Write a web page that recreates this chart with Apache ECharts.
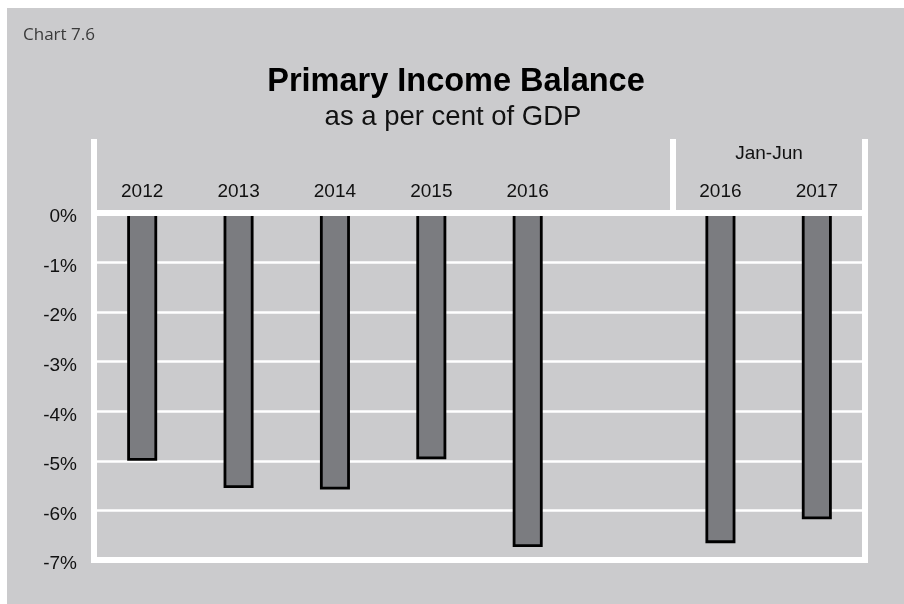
<!DOCTYPE html>
<html>
<head>
<meta charset="utf-8">
<script src="https://cdn.jsdelivr.net/npm/echarts@6/dist/echarts.min.js"></script>
<style>
  html, body { margin: 0; padding: 0; background: #ffffff; }
  #panel { position: absolute; left: 7px; top: 8px; width: 897px; height: 596px; background: #cbcbcd; }
  #chart { position: absolute; left: 0; top: 0; width: 904px; height: 604px; }
</style>
</head>
<body>
<div id="panel"></div>
<div id="chart"></div>
<script>
// Primary income balance, per cent of GDP (calendar years, then Jan-Jun halves)
const categories = ['2012', '2013', '2014', '2015', '2016', '', '2016', '2017'];
const balance = [-5.0, -5.55, -5.58, -4.97, -6.74, null, -6.66, -6.18];
const yTicks = { min: -7, max: 0, step: 1 };
const periodLabel = 'Jan-Jun';
const firstHalfIndex = 6; // first category of the Jan-Jun group

const white = '#ffffff';
const labelFont = { fontFamily: 'Liberation Sans, Arial, sans-serif', fontSize: 19, color: '#111111' };

const chart = echarts.init(document.getElementById('chart'), null, { renderer: 'canvas' });

chart.setOption({
  backgroundColor: 'transparent',
  animation: false,
  grid: { left: 94, right: 39, top: 213, bottom: 44, containLabel: false },
  graphic: [
    { type: 'text', x: 23, y: 35, style: { text: 'Chart 7.6', font: '17px "Open Sans", sans-serif', fill: '#3a3a3a', textVerticalAlign: 'middle' } },
    { type: 'text', x: 456, y: 82, style: { text: 'Primary Income Balance', font: 'bold 32.5px "Liberation Sans", Arial, sans-serif', fill: '#000000', textAlign: 'center', textVerticalAlign: 'middle' } },
    { type: 'text', x: 453, y: 117, style: { text: 'as a per cent of GDP', font: '27.5px "Liberation Sans", Arial, sans-serif', fill: '#111111', textAlign: 'center', textVerticalAlign: 'middle' } },
    { type: 'text', x: 769, y: 154, style: { text: periodLabel, font: '19px "Liberation Sans", Arial, sans-serif', fill: '#111111', textAlign: 'center', textVerticalAlign: 'middle' } }
  ],
  xAxis: [
    {
      type: 'category',
      data: categories,
      position: 'top',
      z: 5,
      axisLine: { show: true, lineStyle: { color: white, width: 6, cap: 'square' } },
      axisTick: {
        show: true,
        length: 74,
        interval: (i) => i === 0 || i === firstHalfIndex,
        lineStyle: { color: white, width: 6 }
      },
      axisLabel: Object.assign({ margin: 12, interval: 0 }, labelFont),
      splitLine: { show: false }
    },
    {
      type: 'category',
      data: categories,
      position: 'bottom',
      z: 5,
      axisLine: { show: true, onZero: false, lineStyle: { color: white, width: 6, cap: 'square' } },
      axisTick: { show: false },
      axisLabel: { show: false },
      splitLine: { show: false }
    }
  ],
  yAxis: [
    {
      type: 'value',
      min: yTicks.min,
      max: yTicks.max,
      interval: yTicks.step,
      position: 'left',
      axisLine: { show: true, lineStyle: { color: white, width: 6, cap: 'square' } },
      axisTick: { show: false },
      axisLabel: {
        margin: 17,
        formatter: (v) => '{p|' + v + '%}',
        rich: { p: Object.assign({ padding: [8, 0, 0, 0] }, labelFont) }
      },
      splitLine: { show: true, lineStyle: { color: white, width: 2.6 } }
    },
    {
      type: 'value',
      min: yTicks.min,
      max: yTicks.max,
      interval: yTicks.step,
      position: 'right',
      axisLine: { show: true, lineStyle: { color: white, width: 6, cap: 'square' } },
      axisTick: { show: false },
      axisLabel: { show: false },
      splitLine: { show: false }
    }
  ],
  series: [
    {
      type: 'bar',
      data: balance,
      xAxisIndex: 0,
      yAxisIndex: 0,
      barWidth: 30,
      itemStyle: { color: '#7b7c80', borderColor: '#000000', borderWidth: 2.8 }
    }
  ]
});
</script>
</body>
</html>
